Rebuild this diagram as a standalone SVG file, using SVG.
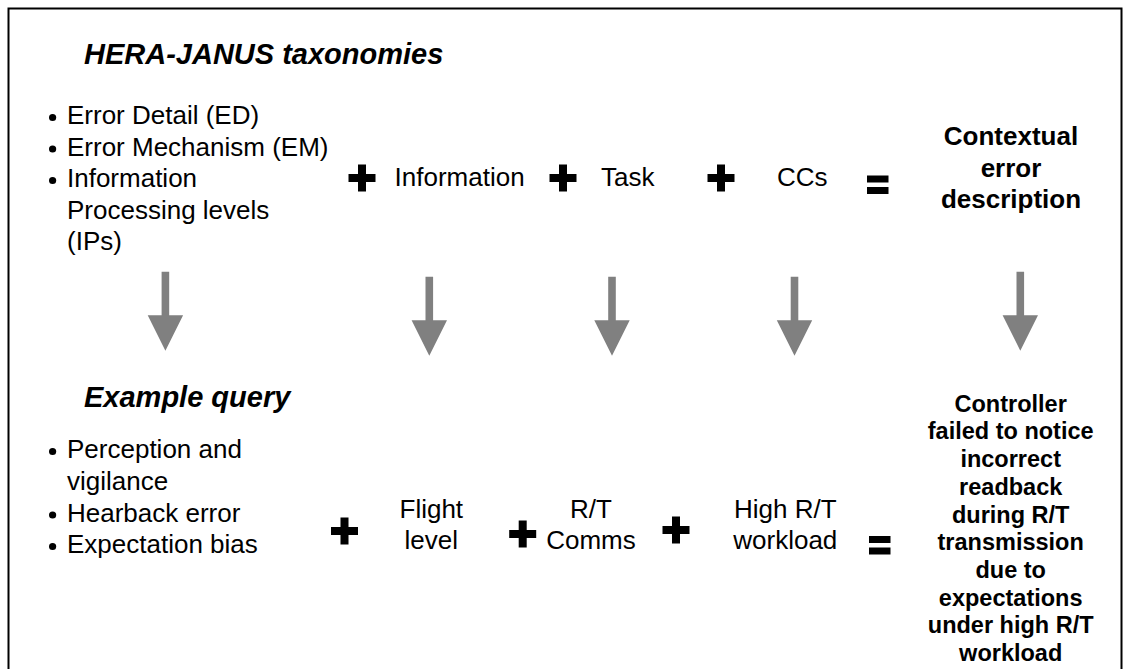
<svg xmlns="http://www.w3.org/2000/svg" xmlns:xlink="http://www.w3.org/1999/xlink" width="1123" height="669" viewBox="0 0 1123 669">
  <style>
    .t { font-family: "Liberation Sans", Arial, sans-serif; font-size: 26px; fill: #000; }
    .h { font-family: "Liberation Sans", Arial, sans-serif; font-size: 29px; font-weight: bold; font-style: italic; fill: #000; }
    .b { font-family: "Liberation Sans", Arial, sans-serif; font-size: 26px; font-weight: bold; fill: #000; }
    .r { font-family: "Liberation Sans", Arial, sans-serif; font-size: 23.5px; font-weight: bold; fill: #000; }
    .mid { text-anchor: middle; }
    .op { fill: #000; }
    .arrow { fill: #808080; }
  </style>
  <defs>
    <!-- thick plus sign centred on the origin -->
    <path id="plus" d="M-13.5,-4 h27 v8 h-27 z M-4,-13.5 h8 v27 h-8 z"/>
    <!-- equals sign, top-left at origin -->
    <path id="equals" d="M0,0 h21.5 v7 h-21.5 z M0,11.5 h21.5 v7 h-21.5 z"/>
    <!-- block down arrow, shaft top centred on origin -->
    <path id="down" d="M-3.8,0 h7.6 v43.5 h13.9 l-17.7,35.5 l-17.7,-35.5 h13.9 z"/>
  </defs>

  <!-- frame -->
  <rect x="8.5" y="8.5" width="1113" height="700" fill="#fff" stroke="#000" stroke-width="2"/>

  <!-- upper row: taxonomy equation -->
  <g id="taxonomies">
    <text class="h" x="84" y="64">HERA-JANUS taxonomies</text>
    <circle cx="52.6" cy="117.5" r="3.6"/>
    <text class="t" x="67" y="124">Error Detail (ED)</text>
    <circle cx="52.6" cy="149" r="3.6"/>
    <text class="t" x="67" y="155.5">Error Mechanism (EM)</text>
    <circle cx="52.6" cy="180.5" r="3.6"/>
    <text class="t" x="67" y="187">Information</text>
    <text class="t" x="67" y="218.5">Processing levels</text>
    <text class="t" x="67" y="250">(IPs)</text>
  </g>
  <g id="information">
    <use href="#plus" class="op" x="362" y="178"/>
    <text class="t" x="394.6" y="186">Information</text>
  </g>
  <g id="task">
    <use href="#plus" class="op" x="563" y="178"/>
    <text class="t" x="601" y="186">Task</text>
  </g>
  <g id="ccs">
    <use href="#plus" class="op" x="721" y="178"/>
    <text class="t" x="777" y="186">CCs</text>
  </g>
  <g id="contextual-description">
    <use href="#equals" class="op" x="867" y="175.5"/>
    <text class="b mid" x="1011" y="145">Contextual</text>
    <text class="b mid" x="1011" y="176.5">error</text>
    <text class="b mid" x="1011" y="208">description</text>
  </g>

  <!-- connectors: grey block arrows between the rows -->
  <g id="connectors" class="arrow">
    <use href="#down" x="165.4" y="271.7"/>
    <use href="#down" x="429.3" y="276.7"/>
    <use href="#down" x="612" y="276.7"/>
    <use href="#down" x="794.5" y="276.7"/>
    <use href="#down" x="1020.3" y="271.7"/>
  </g>

  <!-- lower row: worked example -->
  <g id="example-query">
    <text class="h" x="84" y="406.7">Example query</text>
    <circle cx="52.6" cy="451.5" r="3.6"/>
    <text class="t" x="67" y="458">Perception and</text>
    <text class="t" x="67" y="489.5">vigilance</text>
    <circle cx="52.6" cy="515" r="3.6"/>
    <text class="t" x="67" y="521.5">Hearback error</text>
    <circle cx="52.6" cy="546.5" r="3.6"/>
    <text class="t" x="67" y="553">Expectation bias</text>
  </g>
  <g id="flight-level">
    <use href="#plus" class="op" x="344.5" y="531"/>
    <text class="t mid" x="431.3" y="518">Flight</text>
    <text class="t mid" x="431.3" y="548.5">level</text>
  </g>
  <g id="rt-comms">
    <use href="#plus" class="op" x="522.7" y="534"/>
    <text class="t mid" x="591" y="518">R/T</text>
    <text class="t mid" x="591" y="549">Comms</text>
  </g>
  <g id="rt-workload">
    <use href="#plus" class="op" x="676" y="530"/>
    <text class="t mid" x="785.3" y="518">High R/T</text>
    <text class="t mid" x="785.3" y="548.5">workload</text>
  </g>
  <g id="example-description">
    <use href="#equals" class="op" x="869" y="536"/>
    <text class="r mid" x="1010.7" y="411.7">Controller</text>
    <text class="r mid" x="1010.7" y="439.4">failed to notice</text>
    <text class="r mid" x="1010.7" y="467.1">incorrect</text>
    <text class="r mid" x="1010.7" y="494.8">readback</text>
    <text class="r mid" x="1010.7" y="522.5">during R/T</text>
    <text class="r mid" x="1010.7" y="550.2">transmission</text>
    <text class="r mid" x="1010.7" y="577.9">due to</text>
    <text class="r mid" x="1010.7" y="605.6">expectations</text>
    <text class="r mid" x="1010.7" y="633.3">under high R/T</text>
    <text class="r mid" x="1010.7" y="661">workload</text>
  </g>
</svg>
